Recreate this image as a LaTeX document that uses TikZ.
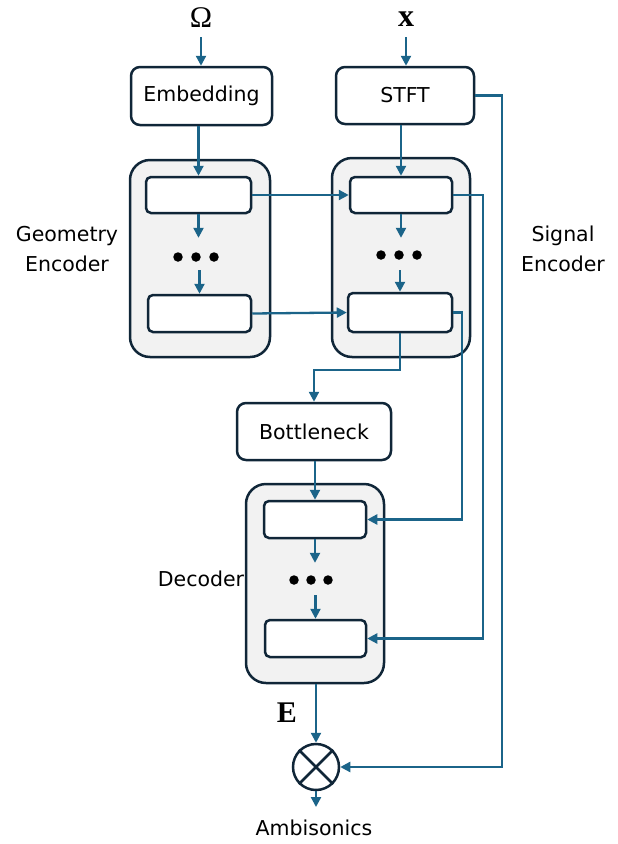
\documentclass[tikz,border=0pt]{standalone}
\usepackage{fontspec}
\setmainfont{DejaVu Sans}
\newfontfamily\serifface{Liberation Serif}
\usetikzlibrary{arrows.meta}
\definecolor{arr}{RGB}{27,100,137}
\definecolor{edge}{RGB}{16,38,56}
\definecolor{panel}{RGB}{242,242,242}
\tikzset{
  blk/.style={draw=edge, line width=2.5pt, rounded corners=9pt, fill=white, inner sep=0pt, font=\fontsize{20.5}{24}\selectfont},
  panelbox/.style={draw=edge, line width=2.5pt, rounded corners=20pt, fill=panel, inner sep=0pt},
  layer/.style={draw=edge, line width=2.5pt, rounded corners=5pt, fill=white, inner sep=0pt},
  conn/.style={draw=arr, line width=2.3pt, -{Triangle[length=10pt,width=10pt]}},
  lbl/.style={font=\fontsize{20.5}{30}\selectfont, align=center, inner sep=0pt},
  blob/.style={circle, fill=black, inner sep=0pt, minimum size=9.5pt},
  gap/.style={inner sep=0pt, minimum width=50pt}
}
\begin{document}
\begin{tikzpicture}[x=1pt,y=-1pt]
\useasboundingbox (0,0) rectangle (618,844);
% inputs
\node[inner sep=0pt, font=\serifface\fontsize{30}{30}\selectfont] (om) at (201,18) {Ω};
\node[inner sep=0pt, font=\serifface\bfseries\fontsize{32}{32}\selectfont] (xin) at (406,19) {x};
% top blocks
\node[blk, minimum width=141pt, minimum height=58pt] (emb) at (201.5,96) {Embedding};
\node[blk, minimum width=138pt, minimum height=57pt] (stft) at (405,95.5) {STFT};
% geometry encoder
\node[panelbox, minimum width=140pt, minimum height=197pt] (ge) at (200,258.5) {};
\node[layer, minimum width=105pt, minimum height=36pt] (g1) at (198.5,195) {};
\node[layer, minimum width=103pt, minimum height=37pt] (g2) at (199.5,313.5) {};
\node[gap, minimum height=32pt] (gdots) at (200,254) {};
\node[blob] (gda) at (178,257) {};
\node[blob] (gdb) at (196,257) {};
\node[blob] (gdc) at (214,257) {};
% signal encoder
\node[panelbox, minimum width=138pt, minimum height=199pt] (se) at (401,257.5) {};
\node[layer, minimum width=102pt, minimum height=36pt] (s1) at (401,195) {};
\node[layer, minimum width=104pt, minimum height=39pt] (s2) at (400,312.5) {};
\node[gap, minimum height=32pt] (sdots) at (400,254) {};
\node[blob] (sda) at (381,255) {};
\node[blob] (sdb) at (399,255) {};
\node[blob] (sdc) at (417,255) {};
% bottleneck
\node[blk, minimum width=154pt, minimum height=57pt] (bn) at (314,431.5) {Bottleneck};
% decoder
\node[panelbox, minimum width=138pt, minimum height=199pt] (dec) at (315,583.5) {};
\node[layer, minimum width=102pt, minimum height=37pt] (d1) at (315,519.5) {};
\node[layer, minimum width=101pt, minimum height=37pt] (d2) at (315.5,638.5) {};
\node[gap, minimum height=32pt] (ddots) at (315,579) {};
\node[blob] (dda) at (294,580) {};
\node[blob] (ddb) at (311,580) {};
\node[blob] (ddc) at (328,580) {};
% multiplier
\node[circle, draw=edge, line width=2.5pt, minimum size=46pt, inner sep=0pt] (mul) at (316,767) {};
\draw[edge, line width=2.5pt] (mul.north west) -- (mul.south east) (mul.north east) -- (mul.south west);
\coordinate (out) at (316,807);
% labels
\node[lbl] (lge) at (67,249) {Geometry\\Encoder};
\node[lbl] (lse) at (563,249) {Signal\\Encoder};
\node[lbl] (ldec) at (201,579) {Decoder};
\node[inner sep=0pt, font=\serifface\bfseries\fontsize{30}{30}\selectfont] (le) at (287,713) {E};
\node[lbl] (lamb) at (314,828) {Ambisonics};
% connectors
\draw[conn] (om.south |- 0,37) -- (om.south |- emb.north);
\draw[conn] (xin.south |- 0,37) -- (xin.south |- stft.north);
\draw[conn] (g1.north |- emb.south) -- (g1.north);
\draw[conn] (s1.north |- stft.south) -- (s1.north);
\draw[conn] (g1.south) -- (g1.south |- gdots.north);
\draw[conn] (g2.north |- gdots.south) -- (g2.north);
\draw[conn] (s1.south) -- (s1.south |- sdots.north);
\draw[conn] (s2.north |- sdots.south) -- (s2.north);
\draw[conn] (g1.east) -- (s1.west);
\draw[conn] (g2.east) -- (s2.west);
\draw[conn] (s1.east) -- ++(30,0) |- (d2.east);
\draw[conn] (s2.east) -- ++(9,0) |- (d1.east);
\draw[conn] (s2.south) -- (s2.south |- 0,370) -| (bn.north);
\draw[conn] (d1.north |- bn.south) -- (d1.north);
\draw[conn] (d1.south) -- (d1.south |- ddots.north);
\draw[conn] (d2.north |- ddots.south) -- (d2.north);
\draw[conn] (mul.north |- dec.south) -- (mul.north);
\draw[conn] (stft.east) -- ++(27,0) |- (mul.east);
\draw[conn] (mul.south) -- (out);
\end{tikzpicture}
\end{document}
